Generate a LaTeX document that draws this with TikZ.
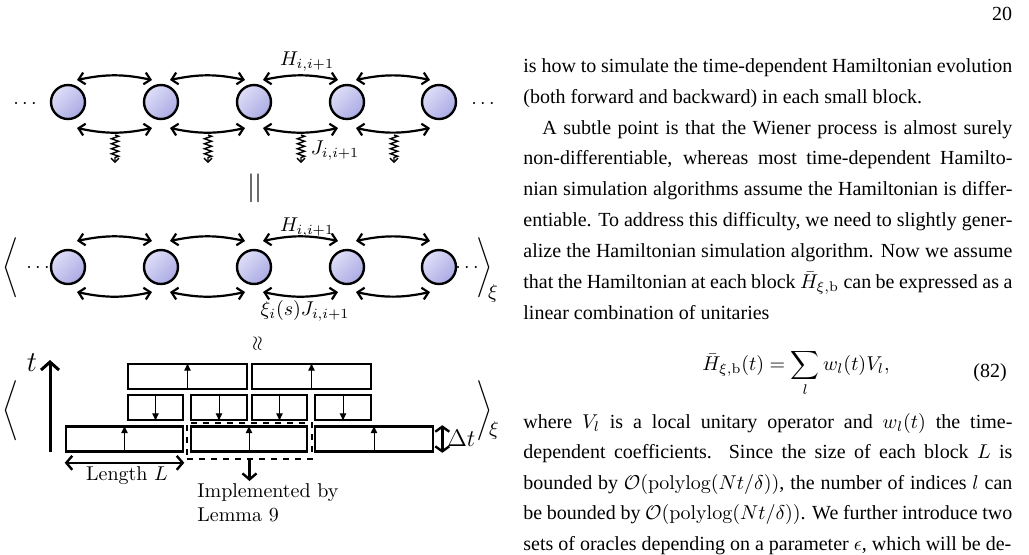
\documentclass[tikz,border=0pt]{standalone}
\usepackage{fontspec}
\newfontfamily\timesf{Liberation Serif}
\usetikzlibrary{arrows.meta,decorations.pathmorphing}
\begin{document}
\begin{tikzpicture}[x=0.5pt,y=-0.5pt,
    site/.style={circle, draw=black, line width=1.2pt, minimum size=17pt, inner sep=0pt,
      shading=axis, top color={rgb,255:red,222;green,222;blue,248}, bottom color={rgb,255:red,170;green,170;blue,228}, shading angle=45},
    bond/.style={{Straight Barb[length=3pt,width=6pt]}-{Straight Barb[length=3pt,width=6pt]}, line width=1.1pt},
    noise/.style={-{Straight Barb[length=2pt,width=4pt]}, line width=0.7pt, decorate,
      decoration={zigzag, segment length=2.5pt, amplitude=1.8pt, post length=2.5pt}},
    blk/.style={draw, line width=1.3pt, minimum height=12.5pt, inner sep=0pt},
    evol/.style={-{Latex[length=4pt,width=3.5pt]}, line width=0.5pt},
    txt/.style={font=\timesf, text width=244.5pt, align=justify, inner sep=0pt, anchor=north west},
  ]
\useasboundingbox (0,0) rectangle (1029,554);
% page number
\node[font=\timesf] (pg) at (1002,14) {20};
% first chain
\foreach \i/\x in {1/68,2/161,3/254,4/347,5/439}{
  \node[site] (a\i) at (\x,102) {};
  \node[site] (b\i) at (\x,267) {};
}
\node (adl) at (25,104) {$\cdots$};
\node (adr) at (483,104) {$\cdots$};
\foreach \i/\j in {1/2,2/3,3/4,4/5}{
  \draw[bond] ([shift={(9,-22)}]a\i.center) to[bend left=12] ([shift={(-9,-22)}]a\j.center);
  \draw[bond] ([shift={(9,26)}]a\i.center) to[bend right=12] ([shift={(-9,26)}]a\j.center);
  \draw[bond] ([shift={(9,-26)}]b\i.center) to[bend left=12] ([shift={(-9,-26)}]b\j.center);
  \draw[bond] ([shift={(9,25)}]b\i.center) to[bend right=12] ([shift={(-9,25)}]b\j.center);
  \coordinate (n\i) at ([shift={(47,33)}]a\i.center);
  \draw[noise] (n\i) -- ++(0,28);
}
\node (ha) at (307,62) {$H_{i,i+1}$};
\node (ja) at (335,151) {$J_{i,i+1}$};
\node[font=\Large] (eq) at (255,188) {$||$};
% averaged chain
\node (hb) at (307,228) {$H_{i,i+1}$};
\node (jb) at (305,311) {$\xi_i(s)J_{i,i+1}$};
\node (bdl) at (38,268) {$\cdots$};
\node (bdr) at (467,268) {$\cdots$};
\node (lb) at (12,267) {$\left\langle\vbox to 18pt{}\right.$};
\node (rb) at (483,267) {$\left.\vbox to 18pt{}\right\rangle$};
\node (xb) at (493,293) {$\xi$};
\node (ap) at (258,344) {\rotatebox{90}{$\approx$}};
% blocks
\draw[line width=1.5pt, -{Straight Barb[length=4pt,width=9pt]}] (50,452) -- (50,360);
\node[font=\Large] (tl) at (32,363) {$t$};
\node (lc) at (12,405) {$\left\langle\vbox to 23pt{}\right.$};
\node (rc) at (483,405) {$\left.\vbox to 23pt{}\right\rangle$};
\node (xc) at (494,430) {$\xi$};
\node[blk, minimum width=59.5pt] (u1) at (187.5,376.5) {};
\node[blk, minimum width=59.5pt] (u2) at (311.5,376.5) {};
\node[blk, minimum width=27.5pt] (m1) at (155.5,407.5) {};
\node[blk, minimum width=28pt] (m2) at (219,407.5) {};
\node[blk, minimum width=27.5pt] (m3) at (279.5,407.5) {};
\node[blk, minimum width=28pt] (m4) at (343,407.5) {};
\node[blk, minimum width=58.5pt] (d1) at (124.5,439) {};
\node[blk, minimum width=58pt] (d2) at (249,439) {};
\node[blk, minimum width=59pt] (d3) at (374,439) {};
\foreach \b in {u1,u2,d1,d2,d3} \draw[evol] (\b.south) -- (\b.north);
\foreach \b in {m1,m2,m3,m4} \draw[evol] (\b.north) -- (\b.south);
\node[draw, dashed, line width=1.2pt, minimum width=62.5pt, minimum height=18pt, inner sep=0pt] (lem) at (249.5,441) {};
\coordinate (lemend) at (249.5,481);
\draw[line width=1.2pt, -{Straight Barb[length=3pt,width=7pt]}] (lem.south) -- (lemend);
\node[anchor=north west, align=left, inner sep=0pt] (lemtxt) at (197,483) {Implemented by\\Lemma 9};
\draw[line width=1.2pt, {Straight Barb[length=3pt,width=7pt]}-{Straight Barb[length=3pt,width=7pt]}]
  ([yshift=-5pt]d1.south west) -- ([yshift=-5pt]d1.south east);
\node (len) at (127,476) {Length $L$};
\draw[line width=1.2pt, {Straight Barb[length=2.5pt,width=7pt]}-{Straight Barb[length=2.5pt,width=7pt]}]
  ([xshift=4pt]d3.north east) -- ([xshift=4pt]d3.south east);
\node[font=\large, anchor=west, inner sep=1pt] (dt) at (445,438) {$\Delta t$};
% text column
\node[txt] (p1) at (523,58) {\baselineskip=15.45pt
is how to simulate the time-dependent Hamiltonian evolution\linebreak
(both forward and backward) in each small block.\par
\hspace*{9.5pt}A subtle point is that the Wiener process is almost surely\linebreak
non-differentiable, whereas most time-dependent Hamilto-\linebreak
nian simulation algorithms assume the Hamiltonian is differ-\linebreak
entiable. To address this difficulty, we need to slightly gener-\linebreak
alize the Hamiltonian simulation algorithm. Now we assume\linebreak
that the Hamiltonian at each block $\bar H_{\xi,\mathrm{b}}$ can be expressed as a\linebreak
linear combination of unitaries\par};
\node (eqn) at (796,373) {$\displaystyle \bar H_{\xi,\mathrm{b}}(t) = \sum_l w_l(t)V_l,$};
\node[font=\timesf] (eqno) at (990,373) {(82)};
\node[txt] (p2) at (523,413) {\baselineskip=15.25pt
where $V_l$ is a local unitary operator and $w_l(t)$ the time-\linebreak
dependent coefficients. Since the size of each block $L$ is\linebreak
bounded by $\mathcal{O}(\mathrm{polylog}(Nt/\delta))$, the number of indices $l$ can\linebreak
be bounded by $\mathcal{O}(\mathrm{polylog}(Nt/\delta))$. We further introduce two\linebreak
sets of oracles depending on a parameter $\epsilon$, which will be de-\par};
\end{tikzpicture}
\end{document}
